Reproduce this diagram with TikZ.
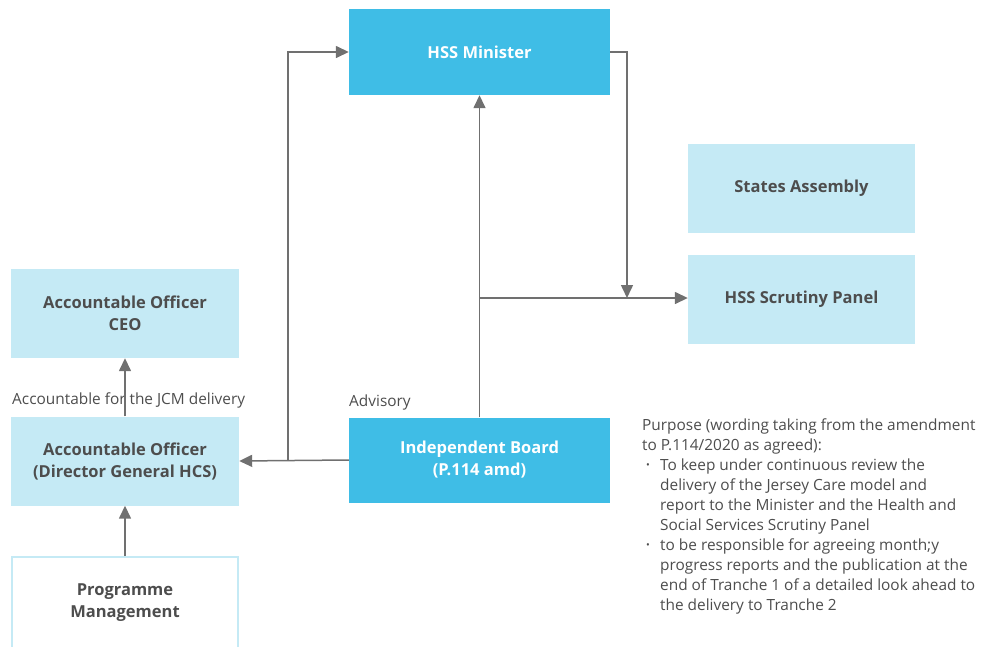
\documentclass[tikz,border=0pt]{standalone}
\usepackage{fontspec}
\setmainfont{Open Sans}
\usepackage{tikz}
\usetikzlibrary{arrows.meta}
\definecolor{darkbox}{HTML}{3FBDE6}
\definecolor{lightbox}{HTML}{C5EAF5}
\definecolor{linegrey}{HTML}{707070}
\definecolor{textgrey}{HTML}{4D4D4D}
\newcommand{\bul}{\makebox[18pt][l]{\hspace{4pt}\raisebox{2.2pt}{\scalebox{0.65}{\textbullet}}}}
\newcommand{\ind}{\hspace*{18pt}}

\begin{document}
\begin{tikzpicture}[x=1pt, y=-1pt,
	darkbx/.style={rectangle, fill=darkbox, text=white, align=center,
		font=\fontsize{16.5}{22}\selectfont\bfseries},
	lightbx/.style={rectangle, fill=lightbox, text=textgrey, align=center,
		font=\fontsize{16.5}{22}\selectfont\bfseries},
	arr/.style={draw=linegrey, line width=1.5pt,
		-{Triangle[length=13pt, width=12pt]}},
	lbl/.style={text=textgrey, font=\fontsize{15.4}{20}\selectfont}]
	\clip (0,0) rectangle (989,646);
	\node (minister) [darkbx, minimum width=261pt, minimum height=86pt] at (479.5,52)
		{HSS Minister};
	\node (assembly) [lightbx, minimum width=227pt, minimum height=89pt] at (801.5,188.5)
		{States Assembly};
	\node (scrutiny) [lightbx, minimum width=227pt, minimum height=89pt] at (801.5,299.5)
		{HSS Scrutiny Panel};
	\node (ceo) [lightbx, minimum width=228pt, minimum height=89pt] at (125,313.5)
		{Accountable Officer\\CEO};
	\node (dg) [lightbx, minimum width=228pt, minimum height=89pt] at (125,461)
		{Accountable Officer\\(Director General HCS)};
	\node (progmgmt) [lightbx, fill=white, draw=lightbox, line width=2pt,
		minimum width=226pt, minimum height=92pt] at (125,603)
		{Programme\\Management};
	\node (board) [darkbx, minimum width=261pt, minimum height=85pt] at (479.5,460)
		{Independent Board\\(P.114 amd)};
	% labels
	\node (jcm) [lbl, anchor=west, inner sep=0pt] at (12,400)
		{Accountable for the JCM delivery};
	\node (advisory) [lbl, anchor=west, inner sep=0pt] at (349,402)
		{Advisory};
	\node (purpose) [lbl, anchor=north west, align=left, inner sep=0pt] at (642,419)
		{Purpose (wording taking from the amendment\\
		to P.114/2020 as agreed):\\
		\bul To keep under continuous review the\\
		\ind delivery of the Jersey Care model and\\
		\ind report to the Minister and the Health and\\
		\ind Social Services Scrutiny Panel\\
		\bul to be responsible for agreeing month;y\\
		\ind progress reports and the publication at the\\
		\ind end of Tranche 1 of a detailed look ahead to\\
		\ind the delivery to Tranche 2};
	% connectors
	\coordinate (jn) at (288,460);
	\coordinate (split) at (480,298);
	\coordinate (drop) at (627,298);
	\draw [arr] (board.west) to (dg.east);
	\draw [arr] (jn) |- (minister.west);
	\draw [arr] (board.north) to (minister.south);
	\draw [arr] (split) to (split -| scrutiny.west);
	\draw [arr] (minister.east) -| (drop);
	\draw [arr] (dg.north) to (ceo.south);
	\draw [arr] (progmgmt.north) to (dg.south);
\end{tikzpicture}
\end{document}
